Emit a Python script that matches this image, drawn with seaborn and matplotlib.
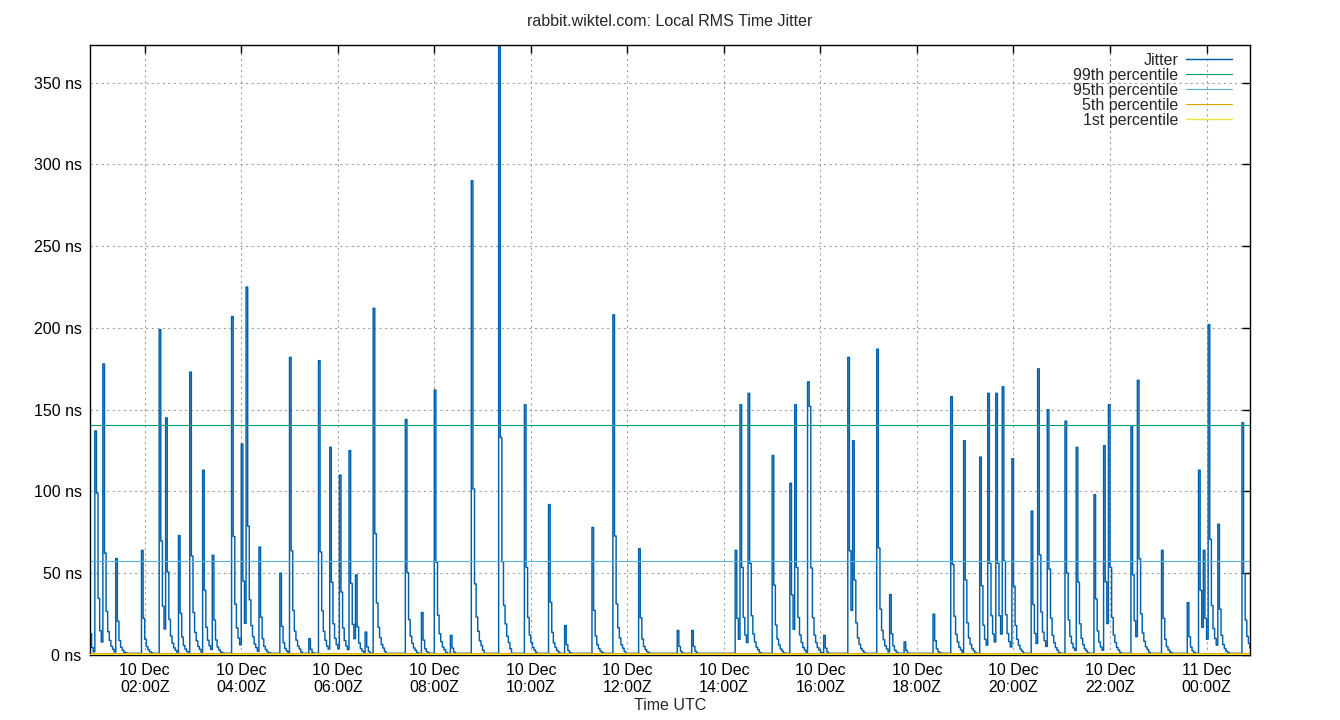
import matplotlib
matplotlib.use("Agg")
import matplotlib.dates as mdates
import matplotlib.pyplot as plt
import numpy as np
import pandas as pd
import seaborn as sns

# --------------------------------------------------------------------------
# Data
# --------------------------------------------------------------------------

# jitter peaks (2-minute samples), ns
spike_times = [
    "2023-12-10 00:52", "2023-12-10 00:58", "2023-12-10 01:00", "2023-12-10 01:08",
    "2023-12-10 01:24", "2023-12-10 01:56", "2023-12-10 02:18", "2023-12-10 02:26",
    "2023-12-10 02:42", "2023-12-10 02:56", "2023-12-10 03:12", "2023-12-10 03:24",
    "2023-12-10 03:48", "2023-12-10 04:00", "2023-12-10 04:06", "2023-12-10 04:22",
    "2023-12-10 04:48", "2023-12-10 05:00", "2023-12-10 05:24", "2023-12-10 05:36",
    "2023-12-10 05:50", "2023-12-10 06:02", "2023-12-10 06:14", "2023-12-10 06:22",
    "2023-12-10 06:34", "2023-12-10 06:44", "2023-12-10 07:24", "2023-12-10 07:44",
    "2023-12-10 08:00", "2023-12-10 08:20", "2023-12-10 08:46", "2023-12-10 09:20",
    "2023-12-10 09:52", "2023-12-10 10:22", "2023-12-10 10:42", "2023-12-10 11:16",
    "2023-12-10 11:42", "2023-12-10 12:14", "2023-12-10 13:02", "2023-12-10 13:20",
    "2023-12-10 14:14", "2023-12-10 14:20", "2023-12-10 14:30", "2023-12-10 15:00",
    "2023-12-10 15:22", "2023-12-10 15:28", "2023-12-10 15:44", "2023-12-10 15:46",
    "2023-12-10 16:04", "2023-12-10 16:34", "2023-12-10 16:40", "2023-12-10 17:10",
    "2023-12-10 17:26", "2023-12-10 17:44", "2023-12-10 18:20", "2023-12-10 18:42",
    "2023-12-10 18:58", "2023-12-10 19:18", "2023-12-10 19:28", "2023-12-10 19:38",
    "2023-12-10 19:46", "2023-12-10 19:58", "2023-12-10 20:22", "2023-12-10 20:30",
    "2023-12-10 20:42", "2023-12-10 21:04", "2023-12-10 21:18", "2023-12-10 21:40",
    "2023-12-10 21:52", "2023-12-10 21:58", "2023-12-10 22:26", "2023-12-10 22:34",
    "2023-12-10 23:04", "2023-12-10 23:36", "2023-12-10 23:50", "2023-12-10 23:56",
    "2023-12-11 00:02", "2023-12-11 00:14", "2023-12-11 00:44",
]
spike_peaks = [
    13, 137, 99, 178,
    59, 64, 199, 145,
    73, 173, 113, 61,
    207, 129, 225, 66,
    50, 182, 10, 180,
    127, 110, 125, 49,
    14, 212, 144, 26,
    162, 12, 290, 380,
    153, 92, 18, 78,
    208, 65, 15, 15,
    64, 153, 160, 122,
    105, 153, 167, 152,
    12, 182, 131, 187,
    37, 8, 25, 158,
    131, 121, 160, 160,
    164, 120, 88, 175,
    150, 143, 127, 98,
    128, 153, 140, 168,
    64, 32, 113, 64,
    202, 80, 142,
]
# fraction of a peak seen in the samples after it
tail_profile = [1.0, 0.35, 0.15, 0.08, 0.05, 0.03, 0.02, 0.01]
baseline_ns = 1.0

p99_ns = 140.5
p95_ns = 57.5
p5_ns = 1.0
p1_ns = 0.8

window_start = "2023-12-10 00:52"
window_end = "2023-12-11 00:54"

y_ticks = [0, 50, 100, 150, 200, 250, 300, 350]

# --------------------------------------------------------------------------
# Build the series
# --------------------------------------------------------------------------

times = pd.date_range(window_start, window_end, freq="2min")
jitter = np.full(len(times), baseline_ns)
idx = times.searchsorted(pd.to_datetime(spike_times))
for i, peak in zip(idx, spike_peaks):
    for k, frac in enumerate(tail_profile):
        if i + k < len(jitter):
            jitter[i + k] = max(jitter[i + k], peak * frac)

df = pd.DataFrame({"time": times, "jitter": jitter})

# --------------------------------------------------------------------------
# Plot
# --------------------------------------------------------------------------

sns.set_style("white")
plt.rcParams["font.family"] = ["Liberation Sans", "DejaVu Sans"]
plt.rcParams["font.size"] = 11.5

fig = plt.figure(figsize=(13.4, 7.2), dpi=100)
ax = fig.add_axes([90 / 1340, 1 - 655 / 720, 1160 / 1340, 610 / 720])

sns.lineplot(data=df, x="time", y="jitter", ax=ax, color="#0060ad",
             linewidth=1.05, drawstyle="steps-post", label="Jitter")
ax.axhline(p99_ns, color="#009e73", linewidth=0.8, label="99th percentile")
ax.axhline(p95_ns, color="#56b4e9", linewidth=0.8, label="95th percentile")
ax.axhline(p5_ns, color="#e69f00", linewidth=0.8, label="5th percentile")
ax.axhline(p1_ns, color="#f0e442", linewidth=1.0, label="1st percentile", zorder=5)

ax.set_xlim(pd.Timestamp(window_start), pd.Timestamp(window_end))
ax.set_ylim(0, 373)
ax.set_yticks(y_ticks)
ax.set_yticklabels([f"{v} ns" for v in y_ticks])
ax.xaxis.set_major_locator(mdates.HourLocator(byhour=range(0, 24, 2)))
ax.xaxis.set_major_formatter(mdates.DateFormatter("%d %b\n%H:%MZ"))
for lbl in ax.get_xticklabels():
    lbl.set_linespacing(1.1)

ax.grid(True, color="#a0a0a0", linestyle=(0, (2, 3)), linewidth=0.8)
ax.tick_params(direction="in", top=True, right=True, length=6, width=1,
               labelsize=11.5, colors="black", pad=6)
for s in ax.spines.values():
    s.set_color("black")
    s.set_linewidth(1.0)

ax.set_xlabel("")
ax.set_ylabel("")
fig.text(0.5, 1 - 706 / 720, "Time UTC", ha="center", va="center", fontsize=11.5)
fig.text(0.5, 1 - 21 / 720, "rabbit.wiktel.com: Local RMS Time Jitter",
         ha="center", va="center", fontsize=11.5)

ax.legend(loc="upper right", bbox_to_anchor=(1142 / 1160, 1 - 8 / 610),
          frameon=False, markerfirst=False, handlelength=2.85,
          handletextpad=0.5, labelspacing=0.0, borderpad=0.0,
          borderaxespad=0.0, fontsize=11.5)

fig.savefig("out.png", dpi=100)
